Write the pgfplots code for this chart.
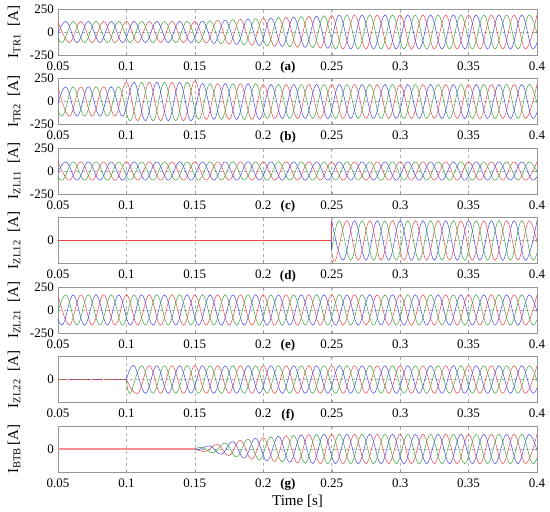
\documentclass[border=0pt]{standalone}
\usepackage{fontspec}
\setmainfont{Liberation Serif}
\usepackage{pgfplots}
\pgfplotsset{compat=1.18}
\usepgfplotslibrary{groupplots}
\definecolor{pr}{RGB}{235,70,70}
\definecolor{pg}{RGB}{60,165,60}
\definecolor{pb}{RGB}{70,70,235}
\definecolor{frm}{RGB}{150,150,150}
\pgfplotsset{
  panel/.style={
    width=479pt, height=46pt, scale only axis,
    xmin=0.05, xmax=0.4, ymin=-250, ymax=250,
    xtick={0.05,0.1,0.15,0.2,0.25,0.3,0.35,0.4},
    xticklabels={0.05,0.1,0.15,0.2,0.25,0.3,0.35,0.4},
    ytick={-250,0,250}, yticklabels={-250,0,250},
    grid=major, major grid style={dashed, gray!60, line width=0.5pt},
    axis line style={frm}, tick style={frm}, major tick length=2pt,
    tick label style={font=\fontsize{13}{15}\selectfont, inner sep=1pt},
    xticklabel style={yshift=-5.5pt},
    yticklabel style={xshift=-3pt},
    label style={font=\fontsize{15}{17}\selectfont},
    ylabel style={at={(axis description cs:-0.083,0.5)}, anchor=base},
    extra x tick style={grid=none, major tick length=0pt},
  },
  ph/.style={line width=0.5pt, smooth, tension=0.65},
  flat/.style={line width=0.7pt, sharp plot},
}
\begin{document}
\begin{tikzpicture}
\begin{groupplot}[group style={group size=1 by 7, vertical sep=23.5pt}, panel]
% (a) I_TR1
\nextgroupplot[ylabel={I\textsubscript{TR1}\ \ [A]}, extra x ticks={0.218}, extra x tick labels={\textbf{(a)}}]
\addplot[ph,pr] coordinates {(0.0500,115)(0.0583,-115)(0.0667,115)(0.0750,-115)(0.0833,115)(0.0917,-115)(0.1000,115)(0.1083,-115)(0.1167,115)(0.1250,-115)(0.1333,115)(0.1417,-115)(0.1500,115)(0.1583,-121)(0.1667,127)(0.1750,-132)(0.1833,138)(0.1917,-144)(0.2000,150)(0.2083,-155)(0.2167,160)(0.2250,-165)(0.2333,170)(0.2417,-175)(0.2500,180)(0.2583,-185)(0.2667,185)(0.2750,-185)(0.2833,185)(0.2917,-185)(0.3000,185)(0.3083,-185)(0.3167,185)(0.3250,-185)(0.3333,185)(0.3417,-185)(0.3500,185)(0.3583,-185)(0.3667,185)(0.3750,-185)(0.3833,185)(0.3917,-185)(0.4000,185)};
\addplot[ph,pg] coordinates {(0.0444,115)(0.0528,-115)(0.0611,115)(0.0694,-115)(0.0778,115)(0.0861,-115)(0.0944,115)(0.1028,-115)(0.1111,115)(0.1194,-115)(0.1278,115)(0.1361,-115)(0.1444,115)(0.1528,-117)(0.1611,123)(0.1694,-129)(0.1778,134)(0.1861,-140)(0.1944,146)(0.2028,-152)(0.2111,157)(0.2194,-162)(0.2278,167)(0.2361,-172)(0.2444,177)(0.2528,-185)(0.2611,185)(0.2694,-185)(0.2778,185)(0.2861,-185)(0.2944,185)(0.3028,-185)(0.3111,185)(0.3194,-185)(0.3278,185)(0.3361,-185)(0.3444,185)(0.3528,-185)(0.3611,185)(0.3694,-185)(0.3778,185)(0.3861,-185)(0.3944,185)(0.4028,-185)};
\addplot[ph,pb] coordinates {(0.0472,-115)(0.0556,115)(0.0639,-115)(0.0722,115)(0.0806,-115)(0.0889,115)(0.0972,-115)(0.1056,115)(0.1139,-115)(0.1222,115)(0.1306,-115)(0.1389,115)(0.1472,-115)(0.1556,119)(0.1639,-125)(0.1722,131)(0.1806,-136)(0.1889,142)(0.1972,-148)(0.2056,153)(0.2139,-158)(0.2222,163)(0.2306,-168)(0.2389,173)(0.2472,-178)(0.2556,185)(0.2639,-185)(0.2722,185)(0.2806,-185)(0.2889,185)(0.2972,-185)(0.3056,185)(0.3139,-185)(0.3222,185)(0.3306,-185)(0.3389,185)(0.3472,-185)(0.3556,185)(0.3639,-185)(0.3722,185)(0.3806,-185)(0.3889,185)(0.3972,-185)(0.4056,185)};
% (b) I_TR2
\nextgroupplot[ylabel={I\textsubscript{TR2}\ \ [A]}, extra x ticks={0.218}, extra x tick labels={\textbf{(b)}}]
\addplot[ph,pr] coordinates {(0.0500,160)(0.0583,-160)(0.0667,160)(0.0750,-160)(0.0833,160)(0.0917,-160)(0.1000,210)(0.1083,-210)(0.1167,210)(0.1250,-210)(0.1333,210)(0.1417,-210)(0.1500,225)(0.1583,-195)(0.1667,195)(0.1750,-195)(0.1833,195)(0.1917,-195)(0.2000,185)(0.2083,-185)(0.2167,185)(0.2250,-185)(0.2333,185)(0.2417,-185)(0.2500,185)(0.2583,-185)(0.2667,185)(0.2750,-185)(0.2833,185)(0.2917,-185)(0.3000,185)(0.3083,-185)(0.3167,185)(0.3250,-185)(0.3333,185)(0.3417,-185)(0.3500,185)(0.3583,-185)(0.3667,185)(0.3750,-185)(0.3833,185)(0.3917,-185)(0.4000,185)};
\addplot[ph,pg] coordinates {(0.0444,160)(0.0528,-160)(0.0611,160)(0.0694,-160)(0.0778,160)(0.0861,-160)(0.0944,160)(0.1028,-210)(0.1111,210)(0.1194,-210)(0.1278,210)(0.1361,-210)(0.1444,210)(0.1528,-195)(0.1611,195)(0.1694,-195)(0.1778,195)(0.1861,-195)(0.1944,195)(0.2028,-185)(0.2111,185)(0.2194,-185)(0.2278,185)(0.2361,-185)(0.2444,185)(0.2528,-185)(0.2611,185)(0.2694,-185)(0.2778,185)(0.2861,-185)(0.2944,185)(0.3028,-185)(0.3111,185)(0.3194,-185)(0.3278,185)(0.3361,-185)(0.3444,185)(0.3528,-185)(0.3611,185)(0.3694,-185)(0.3778,185)(0.3861,-185)(0.3944,185)(0.4028,-185)};
\addplot[ph,pb] coordinates {(0.0472,-160)(0.0556,160)(0.0639,-160)(0.0722,160)(0.0806,-160)(0.0889,160)(0.0972,-160)(0.1056,210)(0.1139,-210)(0.1222,210)(0.1306,-210)(0.1389,210)(0.1472,-210)(0.1556,195)(0.1639,-195)(0.1722,195)(0.1806,-195)(0.1889,195)(0.1972,-195)(0.2056,185)(0.2139,-185)(0.2222,185)(0.2306,-185)(0.2389,185)(0.2472,-185)(0.2556,185)(0.2639,-185)(0.2722,185)(0.2806,-185)(0.2889,185)(0.2972,-185)(0.3056,185)(0.3139,-185)(0.3222,185)(0.3306,-185)(0.3389,185)(0.3472,-185)(0.3556,185)(0.3639,-185)(0.3722,185)(0.3806,-185)(0.3889,185)(0.3972,-185)(0.4056,185)};
% (c) I_ZL11
\nextgroupplot[ylabel={I\textsubscript{ZL11}\ \ [A]}, extra x ticks={0.218}, extra x tick labels={\textbf{(c)}}]
\addplot[ph,pr] coordinates {(0.0500,100)(0.0583,-100)(0.0667,100)(0.0750,-100)(0.0833,100)(0.0917,-100)(0.1000,100)(0.1083,-100)(0.1167,100)(0.1250,-100)(0.1333,100)(0.1417,-100)(0.1500,100)(0.1583,-100)(0.1667,100)(0.1750,-100)(0.1833,100)(0.1917,-100)(0.2000,100)(0.2083,-100)(0.2167,100)(0.2250,-100)(0.2333,100)(0.2417,-100)(0.2500,100)(0.2583,-100)(0.2667,100)(0.2750,-100)(0.2833,100)(0.2917,-100)(0.3000,100)(0.3083,-100)(0.3167,100)(0.3250,-100)(0.3333,100)(0.3417,-100)(0.3500,100)(0.3583,-100)(0.3667,100)(0.3750,-100)(0.3833,100)(0.3917,-100)(0.4000,100)};
\addplot[ph,pg] coordinates {(0.0444,100)(0.0528,-100)(0.0611,100)(0.0694,-100)(0.0778,100)(0.0861,-100)(0.0944,100)(0.1028,-100)(0.1111,100)(0.1194,-100)(0.1278,100)(0.1361,-100)(0.1444,100)(0.1528,-100)(0.1611,100)(0.1694,-100)(0.1778,100)(0.1861,-100)(0.1944,100)(0.2028,-100)(0.2111,100)(0.2194,-100)(0.2278,100)(0.2361,-100)(0.2444,100)(0.2528,-100)(0.2611,100)(0.2694,-100)(0.2778,100)(0.2861,-100)(0.2944,100)(0.3028,-100)(0.3111,100)(0.3194,-100)(0.3278,100)(0.3361,-100)(0.3444,100)(0.3528,-100)(0.3611,100)(0.3694,-100)(0.3778,100)(0.3861,-100)(0.3944,100)(0.4028,-100)};
\addplot[ph,pb] coordinates {(0.0472,-100)(0.0556,100)(0.0639,-100)(0.0722,100)(0.0806,-100)(0.0889,100)(0.0972,-100)(0.1056,100)(0.1139,-100)(0.1222,100)(0.1306,-100)(0.1389,100)(0.1472,-100)(0.1556,100)(0.1639,-100)(0.1722,100)(0.1806,-100)(0.1889,100)(0.1972,-100)(0.2056,100)(0.2139,-100)(0.2222,100)(0.2306,-100)(0.2389,100)(0.2472,-100)(0.2556,100)(0.2639,-100)(0.2722,100)(0.2806,-100)(0.2889,100)(0.2972,-100)(0.3056,100)(0.3139,-100)(0.3222,100)(0.3306,-100)(0.3389,100)(0.3472,-100)(0.3556,100)(0.3639,-100)(0.3722,100)(0.3806,-100)(0.3889,100)(0.3972,-100)(0.4056,100)};
% (d) I_ZL12
\nextgroupplot[ylabel={I\textsubscript{ZL12}\ \ [A]}, ytick={0}, yticklabels={0}, extra x ticks={0.218}, extra x tick labels={\textbf{(d)}}]
\addplot[flat,pg] coordinates {(0.04,0)(0.25,0)(0.25,-107)};
\addplot[flat,pb] coordinates {(0.04,0)(0.25,0)(0.25,-107)};
\addplot[flat,pr] coordinates {(0.04,0)(0.25,0)(0.25,215)};
\addplot[ph,pb] coordinates {(0.2500,215)(0.2583,-215)(0.2667,215)(0.2750,-215)(0.2833,215)(0.2917,-215)(0.3000,215)(0.3083,-215)(0.3167,215)(0.3250,-215)(0.3333,215)(0.3417,-215)(0.3500,215)(0.3583,-215)(0.3667,215)(0.3750,-215)(0.3833,215)(0.3917,-215)(0.4000,215)};
\addplot[ph,pr] coordinates {(0.2500,-107)(0.2528,-215)(0.2611,215)(0.2694,-215)(0.2778,215)(0.2861,-215)(0.2944,215)(0.3028,-215)(0.3111,215)(0.3194,-215)(0.3278,215)(0.3361,-215)(0.3444,215)(0.3528,-215)(0.3611,215)(0.3694,-215)(0.3778,215)(0.3861,-215)(0.3944,215)(0.4028,-215)};
\addplot[ph,pg] coordinates {(0.2500,-107)(0.2556,215)(0.2639,-215)(0.2722,215)(0.2806,-215)(0.2889,215)(0.2972,-215)(0.3056,215)(0.3139,-215)(0.3222,215)(0.3306,-215)(0.3389,215)(0.3472,-215)(0.3556,215)(0.3639,-215)(0.3722,215)(0.3806,-215)(0.3889,215)(0.3972,-215)(0.4056,215)};
% (e) I_ZL21
\nextgroupplot[ylabel={I\textsubscript{ZL21}\ \ [A]}, extra x ticks={0.218}, extra x tick labels={\textbf{(e)}}]
\addplot[ph,pr] coordinates {(0.0500,165)(0.0583,-165)(0.0667,165)(0.0750,-165)(0.0833,165)(0.0917,-165)(0.1000,165)(0.1083,-165)(0.1167,165)(0.1250,-165)(0.1333,165)(0.1417,-165)(0.1500,165)(0.1583,-165)(0.1667,165)(0.1750,-165)(0.1833,165)(0.1917,-165)(0.2000,165)(0.2083,-165)(0.2167,165)(0.2250,-165)(0.2333,165)(0.2417,-165)(0.2500,165)(0.2583,-165)(0.2667,165)(0.2750,-165)(0.2833,165)(0.2917,-165)(0.3000,165)(0.3083,-165)(0.3167,165)(0.3250,-165)(0.3333,165)(0.3417,-165)(0.3500,165)(0.3583,-165)(0.3667,165)(0.3750,-165)(0.3833,165)(0.3917,-165)(0.4000,165)};
\addplot[ph,pb] coordinates {(0.0444,165)(0.0528,-165)(0.0611,165)(0.0694,-165)(0.0778,165)(0.0861,-165)(0.0944,165)(0.1028,-165)(0.1111,165)(0.1194,-165)(0.1278,165)(0.1361,-165)(0.1444,165)(0.1528,-165)(0.1611,165)(0.1694,-165)(0.1778,165)(0.1861,-165)(0.1944,165)(0.2028,-165)(0.2111,165)(0.2194,-165)(0.2278,165)(0.2361,-165)(0.2444,165)(0.2528,-165)(0.2611,165)(0.2694,-165)(0.2778,165)(0.2861,-165)(0.2944,165)(0.3028,-165)(0.3111,165)(0.3194,-165)(0.3278,165)(0.3361,-165)(0.3444,165)(0.3528,-165)(0.3611,165)(0.3694,-165)(0.3778,165)(0.3861,-165)(0.3944,165)(0.4028,-165)};
\addplot[ph,pg] coordinates {(0.0472,-165)(0.0556,165)(0.0639,-165)(0.0722,165)(0.0806,-165)(0.0889,165)(0.0972,-165)(0.1056,165)(0.1139,-165)(0.1222,165)(0.1306,-165)(0.1389,165)(0.1472,-165)(0.1556,165)(0.1639,-165)(0.1722,165)(0.1806,-165)(0.1889,165)(0.1972,-165)(0.2056,165)(0.2139,-165)(0.2222,165)(0.2306,-165)(0.2389,165)(0.2472,-165)(0.2556,165)(0.2639,-165)(0.2722,165)(0.2806,-165)(0.2889,165)(0.2972,-165)(0.3056,165)(0.3139,-165)(0.3222,165)(0.3306,-165)(0.3389,165)(0.3472,-165)(0.3556,165)(0.3639,-165)(0.3722,165)(0.3806,-165)(0.3889,165)(0.3972,-165)(0.4056,165)};
% (f) I_ZL22
\nextgroupplot[ylabel={I\textsubscript{ZL22}\ \ [A]}, ytick={0}, yticklabels={0}, extra x ticks={0.218}, extra x tick labels={\textbf{(f)}}]
\addplot[flat,pg,dashed] coordinates {(0.04,0)(0.1,0)};
\addplot[flat,pb,dotted] coordinates {(0.04,0)(0.1,0)};
\addplot[flat,pr,densely dotted] coordinates {(0.04,0)(0.1,0)};
\addplot[ph,pr] coordinates {(0.1000,0)(0.1083,-150)(0.1167,150)(0.1250,-150)(0.1333,150)(0.1417,-150)(0.1500,150)(0.1583,-150)(0.1667,150)(0.1750,-150)(0.1833,150)(0.1917,-150)(0.2000,150)(0.2083,-150)(0.2167,150)(0.2250,-150)(0.2333,150)(0.2417,-150)(0.2500,150)(0.2583,-150)(0.2667,150)(0.2750,-150)(0.2833,150)(0.2917,-150)(0.3000,150)(0.3083,-150)(0.3167,150)(0.3250,-150)(0.3333,150)(0.3417,-150)(0.3500,150)(0.3583,-150)(0.3667,150)(0.3750,-150)(0.3833,150)(0.3917,-150)(0.4000,150)};
\addplot[ph,pg] coordinates {(0.1000,0)(0.1028,-150)(0.1111,150)(0.1194,-150)(0.1278,150)(0.1361,-150)(0.1444,150)(0.1528,-150)(0.1611,150)(0.1694,-150)(0.1778,150)(0.1861,-150)(0.1944,150)(0.2028,-150)(0.2111,150)(0.2194,-150)(0.2278,150)(0.2361,-150)(0.2444,150)(0.2528,-150)(0.2611,150)(0.2694,-150)(0.2778,150)(0.2861,-150)(0.2944,150)(0.3028,-150)(0.3111,150)(0.3194,-150)(0.3278,150)(0.3361,-150)(0.3444,150)(0.3528,-150)(0.3611,150)(0.3694,-150)(0.3778,150)(0.3861,-150)(0.3944,150)(0.4028,-150)};
\addplot[ph,pb] coordinates {(0.1000,0)(0.1056,150)(0.1139,-150)(0.1222,150)(0.1306,-150)(0.1389,150)(0.1472,-150)(0.1556,150)(0.1639,-150)(0.1722,150)(0.1806,-150)(0.1889,150)(0.1972,-150)(0.2056,150)(0.2139,-150)(0.2222,150)(0.2306,-150)(0.2389,150)(0.2472,-150)(0.2556,150)(0.2639,-150)(0.2722,150)(0.2806,-150)(0.2889,150)(0.2972,-150)(0.3056,150)(0.3139,-150)(0.3222,150)(0.3306,-150)(0.3389,150)(0.3472,-150)(0.3556,150)(0.3639,-150)(0.3722,150)(0.3806,-150)(0.3889,150)(0.3972,-150)(0.4056,150)};
% (g) I_BTB
\nextgroupplot[ylabel={I\textsubscript{BTB}\,[A]}, xlabel={Time [s]}, ytick={0}, yticklabels={0}, extra x ticks={0.218}, extra x tick labels={\textbf{(g)}}]
\addplot[ph,pr] coordinates {(0.1500,0)(0.1583,-25)(0.1667,50)(0.1750,-73)(0.1833,93)(0.1917,-112)(0.2000,124)(0.2083,-136)(0.2167,144)(0.2250,-151)(0.2333,157)(0.2417,-160)(0.2500,160)(0.2583,-160)(0.2667,160)(0.2750,-160)(0.2833,160)(0.2917,-160)(0.3000,160)(0.3083,-160)(0.3167,160)(0.3250,-160)(0.3333,160)(0.3417,-160)(0.3500,160)(0.3583,-160)(0.3667,160)(0.3750,-160)(0.3833,160)(0.3917,-160)(0.4000,160)};
\addplot[ph,pb] coordinates {(0.1500,0)(0.1528,-8)(0.1611,33)(0.1694,-58)(0.1778,80)(0.1861,-100)(0.1944,116)(0.2028,-128)(0.2111,139)(0.2194,-146)(0.2278,153)(0.2361,-158)(0.2444,160)(0.2528,-160)(0.2611,160)(0.2694,-160)(0.2778,160)(0.2861,-160)(0.2944,160)(0.3028,-160)(0.3111,160)(0.3194,-160)(0.3278,160)(0.3361,-160)(0.3444,160)(0.3528,-160)(0.3611,160)(0.3694,-160)(0.3778,160)(0.3861,-160)(0.3944,160)(0.4028,-160)};
\addplot[ph,pg] coordinates {(0.1500,0)(0.1556,17)(0.1639,-42)(0.1722,66)(0.1806,-86)(0.1889,107)(0.1972,-120)(0.2056,132)(0.2139,-141)(0.2222,148)(0.2306,-155)(0.2389,159)(0.2472,-160)(0.2556,160)(0.2639,-160)(0.2722,160)(0.2806,-160)(0.2889,160)(0.2972,-160)(0.3056,160)(0.3139,-160)(0.3222,160)(0.3306,-160)(0.3389,160)(0.3472,-160)(0.3556,160)(0.3639,-160)(0.3722,160)(0.3806,-160)(0.3889,160)(0.3972,-160)(0.4056,160)};
\addplot[flat,pr!60,line width=1.4pt] coordinates {(0.04,0)(0.15,0)};
\end{groupplot}
\path (group c1r1.north west) ++(-58pt,9pt) rectangle ++(550pt,-512pt);
\end{tikzpicture}
\end{document}
